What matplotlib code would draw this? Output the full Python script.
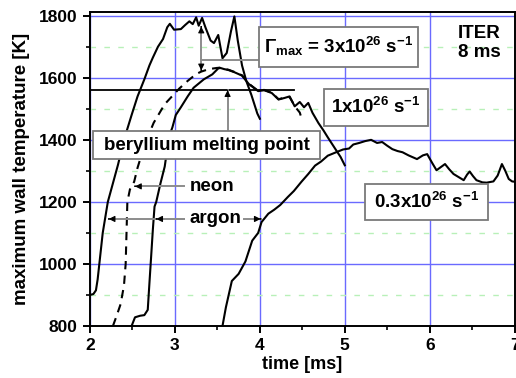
import matplotlib
matplotlib.use('Agg')
import matplotlib.pyplot as plt
from matplotlib.patches import Rectangle
from matplotlib.ticker import MultipleLocator

plt.rcParams['font.family'] = ['Liberation Sans', 'DejaVu Sans']
plt.rcParams['font.weight'] = 'bold'
plt.rcParams['mathtext.fontset'] = 'custom'
plt.rcParams['mathtext.rm'] = 'Liberation Sans:bold'
plt.rcParams['mathtext.it'] = 'Liberation Sans:bold'
plt.rcParams['mathtext.bf'] = 'Liberation Sans:bold'

# argon, Gamma = 3x10^26
t_a = [2.00, 2.04, 2.07, 2.09, 2.11, 2.15, 2.21, 2.27, 2.33, 2.40, 2.49, 2.56, 2.64, 2.70,
       2.74, 2.80, 2.86, 2.91, 2.94, 2.99, 3.07, 3.12, 3.17, 3.21, 3.25, 3.28, 3.32, 3.36,
       3.42, 3.46, 3.51, 3.56, 3.61, 3.66, 3.70, 3.74, 3.79, 3.84, 3.90, 3.97, 4.00]
T_a = [900, 903, 915, 950, 1000, 1100, 1200, 1260, 1320, 1400, 1480, 1540, 1595, 1640,
       1665, 1700, 1725, 1763, 1774, 1755, 1757, 1770, 1782, 1773, 1795, 1768, 1793, 1762,
       1720, 1712, 1738, 1663, 1680, 1750, 1798, 1720, 1640, 1590, 1545, 1485, 1468]

# neon (dashed)
t_ne = [2.27, 2.31, 2.36, 2.40, 2.42, 2.43, 2.44, 2.47, 2.52, 2.56, 2.65, 2.75, 2.88, 3.05,
        3.15, 3.25, 3.31, 3.40, 3.50, 3.58, 3.63, 3.70, 3.79, 3.87, 3.98, 4.05, 4.14, 4.22,
        4.29, 4.35, 4.42, 4.47, 4.49]
T_ne = [800, 830, 870, 930, 1000, 1100, 1200, 1240, 1265, 1310, 1390, 1455, 1515, 1565,
        1590, 1612, 1620, 1628, 1632, 1629, 1626, 1619, 1608, 1581, 1558, 1561, 1552, 1531,
        1536, 1538, 1505, 1488, 1470]

# argon, Gamma = 1x10^26
t_b = [2.49, 2.53, 2.59, 2.64, 2.68, 2.70, 2.72, 2.74, 2.76, 2.78, 2.83, 2.88, 2.93, 2.97,
       3.01, 3.07, 3.15, 3.22, 3.34, 3.44, 3.52, 3.58, 3.63, 3.70, 3.79, 3.87, 3.98, 4.05,
       4.14, 4.22, 4.29, 4.35, 4.41, 4.47, 4.52, 4.57, 4.62, 4.69, 4.75, 4.80, 4.89, 4.95, 5.00]
T_b = [800, 828, 833, 835, 852, 939, 1024, 1110, 1185, 1200, 1260, 1314, 1410, 1440,
       1480, 1505, 1540, 1568, 1595, 1611, 1633, 1628, 1625, 1618, 1607, 1580, 1557, 1560,
       1551, 1530, 1535, 1540, 1508, 1522, 1505, 1519, 1487, 1454, 1430, 1408, 1370, 1345, 1318]

# argon, Gamma = 0.3x10^26
t_c = [3.56, 3.60, 3.67, 3.75, 3.83, 3.91, 3.98, 4.02, 4.10, 4.17, 4.24, 4.33, 4.40, 4.49,
       4.57, 4.65, 4.72, 4.80, 4.88, 4.98, 5.05, 5.10, 5.17, 5.24, 5.31, 5.38, 5.44, 5.50,
       5.56, 5.62, 5.68, 5.75, 5.85, 5.92, 5.97, 6.03, 6.08, 6.13, 6.18, 6.23, 6.28, 6.34,
       6.40, 6.44, 6.47, 6.51, 6.55, 6.62, 6.67, 6.75, 6.80, 6.85, 6.89, 6.93, 6.97, 7.00]
T_c = [800, 860, 945, 968, 1008, 1075, 1100, 1135, 1162, 1175, 1190, 1216, 1235, 1265,
       1290, 1317, 1330, 1349, 1358, 1369, 1372, 1385, 1390, 1396, 1400, 1390, 1393, 1381,
       1370, 1364, 1360, 1350, 1338, 1350, 1354, 1325, 1302, 1312, 1322, 1305, 1290, 1280,
       1270, 1288, 1298, 1283, 1270, 1263, 1262, 1266, 1285, 1322, 1300, 1274, 1266, 1265]

T_melt = 1560
x_ticks = [2, 3, 4, 5, 6, 7]
y_ticks = [800, 1000, 1200, 1400, 1600, 1800]

fig = plt.figure(figsize=(5.16, 3.78), dpi=100)
ax = fig.add_axes([0.1744, 0.1376, 0.823, 0.8314])

ax.set_xlim(2, 7)
ax.set_ylim(800, 1813)
ax.set_xticks(x_ticks)
ax.set_yticks(y_ticks)
ax.xaxis.set_minor_locator(MultipleLocator(0.5))
ax.yaxis.set_minor_locator(MultipleLocator(100))
ax.tick_params(which='major', direction='out', length=5, width=1.4, labelsize=12.5, pad=4)
ax.tick_params(which='minor', direction='out', length=3, width=1.2)
for s in ax.spines.values():
    s.set_linewidth(1.4)

ax.set_axisbelow(True)
ax.grid(which='major', color='#6a6aff', lw=1.0)
ax.yaxis.grid(True, which='minor', color='#b8f0b8', lw=1.0, ls=(0, (4, 6)))

lw = 1.5
ax.plot(t_a, T_a, color='black', lw=lw, zorder=3)
ax.plot(t_ne, T_ne, color='black', lw=lw, dashes=(4, 3), zorder=3)
ax.plot(t_b, T_b, color='black', lw=lw, zorder=3)
ax.plot(t_c, T_c, color='black', lw=lw, zorder=3)
ax.plot([2, 4.4], [T_melt, T_melt], color='black', lw=1.3, zorder=3)

gray = '#8c8c8c'


def arrow(x0, y0, x1, y1):
    # gray line with a small black head at (x1, y1)
    ax.plot([x0, x1], [y0, y1], color=gray, lw=1.4, zorder=4)
    ax.annotate('', xy=(x1, y1), xytext=(x1 - (x1 - x0) * 0.001, y1 - (y1 - y0) * 0.001),
                arrowprops=dict(arrowstyle='-|>', color='black', lw=0.8,
                                mutation_scale=9, shrinkA=0, shrinkB=0), zorder=4)


def box(x0, y0, x1, y1, txt, size=13.5):
    ax.add_patch(Rectangle((x0, y0), x1 - x0, y1 - y0, facecolor='white',
                           edgecolor='#7a7a7a', lw=1.3, zorder=5))
    ax.text((x0 + x1) / 2, (y0 + y1) / 2, txt, ha='center', va='center',
            fontsize=size, fontweight='bold', zorder=6)


# difference arrow and link to Gamma box
arrow(3.31, 1690, 3.31, 1765)
arrow(3.31, 1690, 3.31, 1624)
ax.plot([3.31, 3.99], [1656, 1656], color=gray, lw=1.4, zorder=4)
box(3.99, 1636, 5.86, 1764, r'$\Gamma_{\rm max}$ = 3x10$^{26}$ s$^{-1}$')
box(4.75, 1445, 5.98, 1565, r'1x10$^{26}$ s$^{-1}$')
box(5.24, 1141, 6.69, 1259, r'0.3x10$^{26}$ s$^{-1}$')

arrow(3.62, 1427, 3.62, T_melt)
box(2.04, 1337, 4.71, 1427, 'beryllium melting point')

arrow(3.11, 1250, 2.53, 1250)
ax.text(3.17, 1250, 'neon', ha='left', va='center', fontsize=13.5, fontweight='bold')
arrow(3.11, 1145, 2.22, 1145)
arrow(3.11, 1145, 2.78, 1145)
arrow(3.81, 1145, 4.01, 1145)
ax.text(3.17, 1145, 'argon', ha='left', va='center', fontsize=13.5, fontweight='bold')

ax.text(6.58, 1712, 'ITER\n8 ms', ha='center', va='center', fontsize=13.5,
        fontweight='bold', linespacing=1.1)

ax.set_xlabel('time [ms]', fontsize=13, fontweight='bold', labelpad=2)
ax.set_ylabel('maximum wall temperature [K]', fontsize=13.5, fontweight='bold', labelpad=6)

fig.savefig('out.png', dpi=100)
